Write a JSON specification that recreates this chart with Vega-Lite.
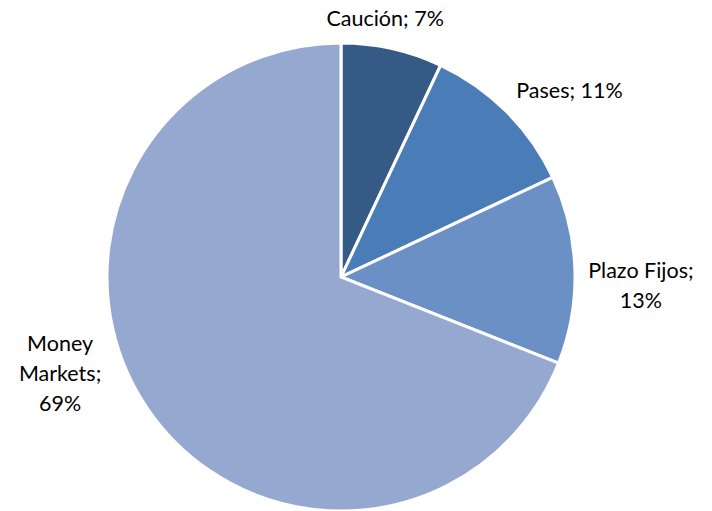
{
  "$schema": "https://vega.github.io/schema/vega-lite/v6.json",
  "width": 682,
  "height": 468,
  "autosize": {"type": "none"},
  "padding": {"left": 0, "top": 43, "right": 30, "bottom": 0},
  "background": "white",
  "config": {"view": {"stroke": null}, "text": {"lineBreak": "\n"}},
  "data": {
    "values": [
      {"idx": 1, "cat": "Caución", "pct": 7, "label": "Caución; 7%"},
      {"idx": 2, "cat": "Pases", "pct": 11, "label": "Pases; 11%"},
      {"idx": 3, "cat": "Plazo Fijos", "pct": 13, "label": "Plazo Fijos;\n13%"},
      {"idx": 4, "cat": "Money Markets", "pct": 69, "label": "Money\nMarkets;\n69%"}
    ]
  },
  "encoding": {
    "theta": {"field": "pct", "type": "quantitative", "stack": true},
    "order": {"field": "idx", "type": "quantitative"}
  },
  "layer": [
    {
      "mark": {"type": "arc", "outerRadius": 234, "stroke": "white", "strokeWidth": 3},
      "encoding": {
        "color": {
          "field": "cat", "type": "nominal",
          "scale": {"domain": ["Caución", "Pases", "Plazo Fijos", "Money Markets"], "range": ["#355A86", "#4A7DB8", "#6A90C6", "#95A9D0"]},
          "legend": null
        }
      }
    },
    {
      "mark": {"type": "text", "radius": 261, "thetaOffset": -0.05, "font": "Lato", "fontSize": 21.5, "color": "#000000", "align": "center", "baseline": "middle", "lineHeight": 30},
      "encoding": {"text": {"condition": {"test": "datum.cat === 'Caución'", "field": "label"}, "value": ""}}
    },
    {
      "mark": {"type": "text", "radius": 294, "thetaOffset": 0.105, "font": "Lato", "fontSize": 21.5, "color": "#000000", "align": "center", "baseline": "middle", "lineHeight": 30},
      "encoding": {"text": {"condition": {"test": "datum.cat === 'Pases'", "field": "label"}, "value": ""}}
    },
    {
      "mark": {"type": "text", "radius": 300, "thetaOffset": 0.014, "font": "Lato", "fontSize": 21.5, "color": "#000000", "align": "center", "baseline": "middle", "lineHeight": 30},
      "encoding": {"text": {"condition": {"test": "datum.cat === 'Plazo Fijos'", "field": "label"}, "value": ""}}
    },
    {
      "mark": {"type": "text", "radius": 289, "thetaOffset": 0.36, "font": "Lato", "fontSize": 21.5, "color": "#000000", "align": "center", "baseline": "middle", "lineHeight": 30},
      "encoding": {"text": {"condition": {"test": "datum.cat === 'Money Markets'", "field": "label"}, "value": ""}}
    }
  ]
}
